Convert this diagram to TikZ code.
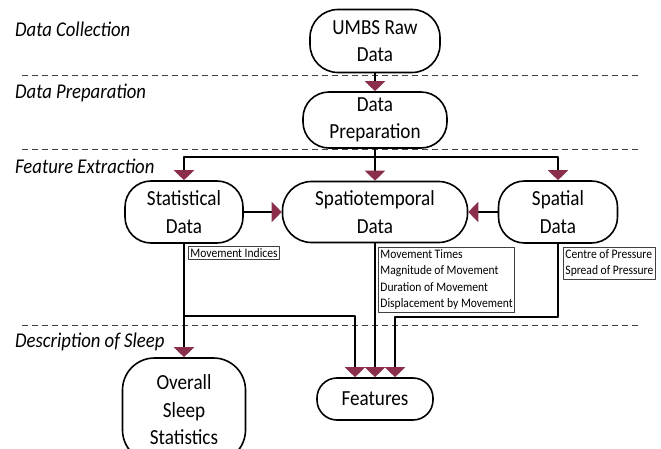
\documentclass[tikz,border=0pt]{standalone}
\usepackage{fontspec}
\setmainfont{Carlito}[FakeStretch=0.89]
\usepackage{xcolor}
\usetikzlibrary{arrows.meta,shapes.misc,positioning}
\definecolor{arrowred}{RGB}{139,46,74}
\newcommand\stagefont{\fontsize{21.5}{27.5}\selectfont}
\newcommand\lanefont{\fontsize{21}{27}\selectfont\itshape}
\newcommand\notefont{\fontsize{13}{16.5}\selectfont}
\tikzset{
  stage/.style={draw, line width=1.6pt, rounded corners=26pt, align=center,
    font=\stagefont, inner sep=0pt},
  notebox/.style={draw=black!75, line width=0.9pt, align=left, font=\notefont,
    inner sep=2pt, anchor=north west},
  flow/.style={line width=2pt, -{Triangle[width=20pt,length=10pt,color=arrowred,fill=arrowred]}},
  lane/.style={line width=1pt, black!75, dash pattern=on 6pt off 4pt},
  lanelabel/.style={font=\lanefont, anchor=west, inner sep=0pt}
}
\begin{document}
\begin{tikzpicture}[x=1pt, y=-1pt, line join=round]

    \clip (0,0) rectangle (661,449);

    % swim lanes
    \draw[lane] (22,76) -- (640,76);
    \draw[lane] (22,150) -- (640,150);
    \draw[lane] (22,325) -- (640,325);
    \node[lanelabel] (lcollect) at (15,29) {Data Collection};
    \node[lanelabel] (lprep) at (15,93) {Data Preparation};
    \node[lanelabel] (lextract) at (15,166) {Feature Extraction};
    \node[lanelabel] (ldescribe) at (15,342) {Description of Sleep};

    % stages
    \node[stage, minimum width=130, minimum height=63, rounded corners=28pt] (raw) at (375,41) {UMBS Raw\\Data};
    \node[stage, minimum width=144, minimum height=56] (prep) at (375,120) {Data\\Preparation};
    \node[stage, minimum width=118, minimum height=62] (stat) at (184,212) {Statistical\\Data};
    \node[stage, minimum width=185, minimum height=61, rounded corners=29pt] (spatio) at (375,212) {Spatiotemporal\\Data};
    \node[stage, minimum width=119, minimum height=62] (spatial) at (558,212) {Spatial\\Data};
    \node[stage, minimum width=123, minimum height=104, rounded corners=32pt] (overall) at (184,410) {Overall\\Sleep\\Statistics};
    \node[stage, minimum width=116, minimum height=42, rounded corners=20pt] (feat) at (375,399) {Features};

    % extracted quantities
    \node[notebox] (statnote) at (188,246) {Movement Indices};
    \node[notebox] (spationote) at (378,247) {Movement Times\\Magnitude of Movement\\Duration of Movement\\Displacement by Movement};
    \node[notebox] (spatialnote) at (563,247) {Centre of Pressure\\Spread of Pressure};

    % connectors
    \coordinate (split) at (375,157);
    \coordinate (statbend) at (184,316);
    \coordinate (spatialbend) at (558,317);
    \draw[flow] (raw) -- (prep);
    \draw[flow] (prep.south) -- (spatio.north);
    \draw[flow] (split) -| (stat.north);
    \draw[flow] (split) -| (spatial.north);
    \draw[flow] (stat) -- (spatio);
    \draw[flow] (spatial) -- (spatio);
    \draw[flow] (stat.south) -- (overall.north);
    \draw[flow] (statbend) -| ([xshift=-20pt]feat.north);
    \draw[flow] (spatio.south) -- (feat.north);
    \draw[flow] (spatial.south) -- (spatialbend) -| ([xshift=20pt]feat.north);

\end{tikzpicture}
\end{document}
